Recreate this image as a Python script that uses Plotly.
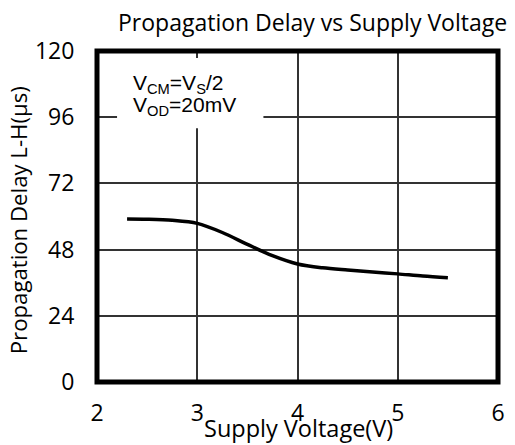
import plotly.graph_objects as go

# Data
voltage = [2.3, 2.5, 2.75, 3.0, 3.25, 3.5, 3.75, 4.0, 4.25, 4.5, 4.75, 5.0, 5.25, 5.5]
delay = [59.1, 59.0, 58.6, 57.5, 54.2, 49.9, 45.8, 42.8, 41.4, 40.6, 39.9, 39.2, 38.4, 37.8]

x_ticks = [2, 3, 4, 5, 6]
y_ticks = [0, 24, 48, 72, 96, 120]

title_text = "Propagation Delay vs Supply Voltage"
x_title = "Supply Voltage(V)"
y_title = "Propagation Delay L-H(μs)"
note_1 = "V<sub>CM</sub>=V<sub>S</sub>/2"
note_2 = "V<sub>OD</sub>=20mV"

W, H = 515, 445
L, R, T, B = 97, 10.5, 51, 63
pw, ph = W - L - R, H - T - B

def px(xp):
    return (xp - L) / pw

def py(yp):
    return (H - B - yp) / ph

FONT = "Open Sans"
CLEAR = "rgba(0,0,0,0)"

fig = go.Figure()
fig.add_trace(go.Scatter(
    x=voltage, y=delay, mode="lines",
    line=dict(color="black", width=3.5, shape="spline", smoothing=0.9),
    showlegend=False, hoverinfo="skip",
))

fig.update_layout(
    width=W, height=H,
    margin=dict(l=L, r=R, t=T, b=B),
    paper_bgcolor="white", plot_bgcolor="white",
    showlegend=False,
    xaxis=dict(
        range=[2, 6], tickvals=x_ticks, ticktext=[str(v) for v in x_ticks],
        showgrid=True, gridcolor="#333333", gridwidth=1.5,
        zeroline=False, showline=False,
        ticks="outside", ticklen=10, tickcolor=CLEAR,
        tickfont=dict(family=FONT, size=23, color="black"),
    ),
    yaxis=dict(
        range=[0, 120], tickvals=y_ticks, ticktext=[str(v) for v in y_ticks],
        showgrid=True, gridcolor="#333333", gridwidth=1.5,
        zeroline=False, showline=False,
        ticks="outside", ticklen=17, tickcolor=CLEAR,
        tickfont=dict(family=FONT, size=23, color="black"),
    ),
)

# white box behind the note
fig.add_shape(type="rect", xref="x", yref="y", x0=2.2, x1=3.66, y0=92, y1=117.5,
              fillcolor="white", line=dict(width=0), layer="above")
# thick frame
fig.add_shape(type="rect", xref="x domain", yref="y domain", x0=0, x1=1, y0=0, y1=1,
              line=dict(color="black", width=5), layer="above")

fig.add_annotation(text=note_1, xref="paper", yref="paper", x=px(132), y=py(84),
                   xanchor="left", yanchor="middle", showarrow=False,
                   font=dict(family="Liberation Sans", size=21, color="black"))
fig.add_annotation(text=note_2, xref="paper", yref="paper", x=px(132), y=py(106),
                   xanchor="left", yanchor="middle", showarrow=False,
                   font=dict(family="Liberation Sans", size=21, color="black"))

fig.add_annotation(text=title_text, xref="paper", yref="paper", x=px(316), y=py(22),
                   xanchor="center", yanchor="middle", showarrow=False,
                   font=dict(family=FONT, size=23, color="black"))
fig.add_annotation(text=x_title, xref="paper", yref="paper", x=px(302), y=py(428),
                   xanchor="center", yanchor="middle", showarrow=False,
                   font=dict(family=FONT, size=23.5, color="black"))
fig.add_annotation(text=y_title, xref="paper", yref="paper", x=px(17), y=py(220),
                   xanchor="center", yanchor="middle", showarrow=False, textangle=-90,
                   font=dict(family=FONT, size=22.2, color="black"))

fig.write_html("out.html", config={"displayModeBar": False},
               post_script="document.body.style.margin='0px';")
